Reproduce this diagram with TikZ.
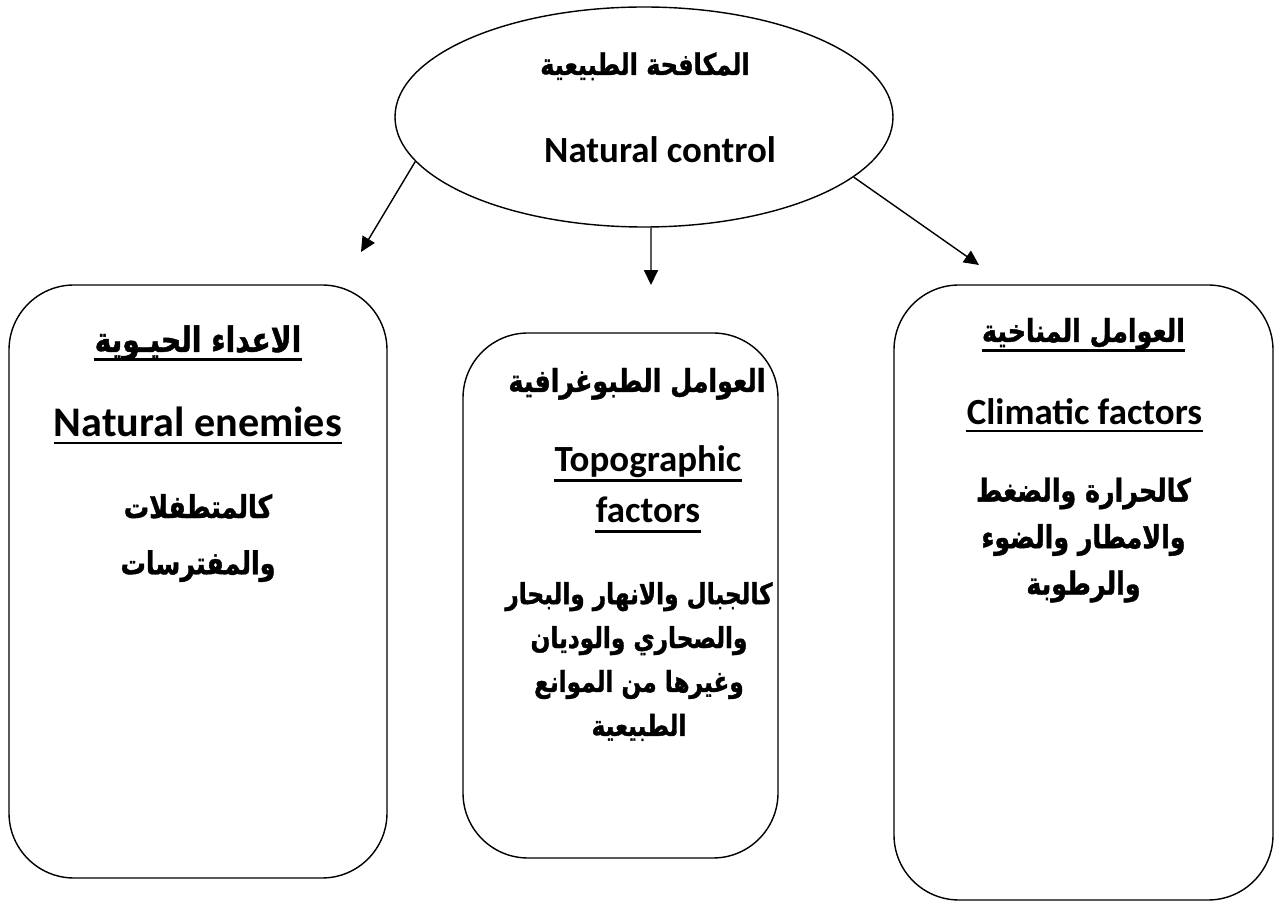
\documentclass[tikz,border=0pt]{standalone}
\usepackage{fontspec}
\setmainfont{Carlito}
\newfontfamily\arabicfont[Script=Arabic, FakeStretch=0.8, BoldFeatures={FakeBold=1.2}]{DejaVu Sans}
\TeXXeTstate=1
\usetikzlibrary{arrows.meta,shapes.geometric}
\newcommand{\artxt}[1]{\beginR#1\endR}

\tikzset{
	panel/.style={draw, thick, rounded corners=1.3cm},
	artitle/.style={font=\arabicfont\bfseries\fontsize{18}{22}\selectfont, inner sep=0pt, anchor=base},
	arbody/.style={font=\arabicfont\bfseries\fontsize{18}{#1}\selectfont, align=center, inner sep=0pt},
	entitle/.style={font=\bfseries\fontsize{21}{25}\selectfont, inner sep=0pt, anchor=base},
	uline/.style={append after command={([yshift=-#1]\tikzlastnode.base west) edge[line width=1.6pt] ([yshift=-#1]\tikzlastnode.base east)}},
	uline/.default=4pt
}

\begin{document}
\begin{tikzpicture}[>={Triangle[length=8.5pt,width=8pt]}]
		\useasboundingbox (0,0) rectangle (25.68,18.12);

		\node[draw, thick, ellipse, minimum width=9.96cm, minimum height=4.4cm] (ctrl) at (12.88,15.78) {};
		\node[artitle, font=\arabicfont\bfseries\fontsize{17}{20}\selectfont] (ctrlar) at (12.9,16.62) {\artxt{المكافحة الطبيعية}};
		\node[entitle] (ctrlen) at (13.2,14.86) {Natural control};

		\node[panel, minimum width=7.56cm, minimum height=11.86cm] (enemybox) at (3.96,6.49) {};
		\node[panel, minimum width=6.3cm, minimum height=10.5cm] (topobox) at (12.41,6.21) {};
		\node[panel, minimum width=7.58cm, minimum height=12.3cm] (climbox) at (21.67,6.27) {};

		\coordinate (enemytip) at (7.22,13.08);
		\coordinate (topotip) at (13.02,12.42);
		\coordinate (climtip) at (19.58,12.82);

		\draw[thick, ->] (ctrl.191) -- (enemytip);
		\draw[thick, ->] (ctrl.south) ++(0.14,0) coordinate (topostart) -- (topotip);
		\draw[thick, ->] (ctrl.344) -- (climtip);

		\node[artitle, font=\arabicfont\bfseries\fontsize{20}{24}\selectfont, uline=4.5pt] (enemyar) at (3.96,11.08) {\artxt{الاعداء الحيـوية}};
		\node[entitle, font=\bfseries\fontsize{24}{28}\selectfont, uline=3.4pt] (enemyen) at (3.96,9.38) {Natural enemies};
		\node[arbody=32pt] (enemytxt) at (3.96,7.36) {\artxt{كالمتطفلات}\\\artxt{والمفترسات}};

		\node[artitle] (topoar) at (12.74,10.28) {\artxt{العوامل الطبوغرافية}};
		\node[entitle, uline=5pt] (topoen1) at (12.96,8.68) {Topographic};
		\node[entitle, uline=5pt] (topoen2) at (12.96,7.66) {factors};
		\node[arbody=25pt, font=\arabicfont\bfseries\fontsize{16.5}{25}\selectfont] (topotxt) at (12.78,4.89) {\artxt{كالجبال والانهار والبحار}\\\artxt{والصحاري والوديان}\\\artxt{وغيرها من الموانع}\\\artxt{الطبيعية}};

		\node[artitle, uline=5pt] (climar) at (21.67,11.28) {\artxt{العوامل المناخية}};
		\node[entitle, uline=3.4pt] (climen) at (21.69,9.62) {Climatic factors};
		\node[arbody=26.5pt] (climtxt) at (21.67,7.32) {\artxt{كالحرارة والضغط}\\\artxt{والامطار والضوء}\\\artxt{والرطوبة}};
	\end{tikzpicture}
\end{document}
